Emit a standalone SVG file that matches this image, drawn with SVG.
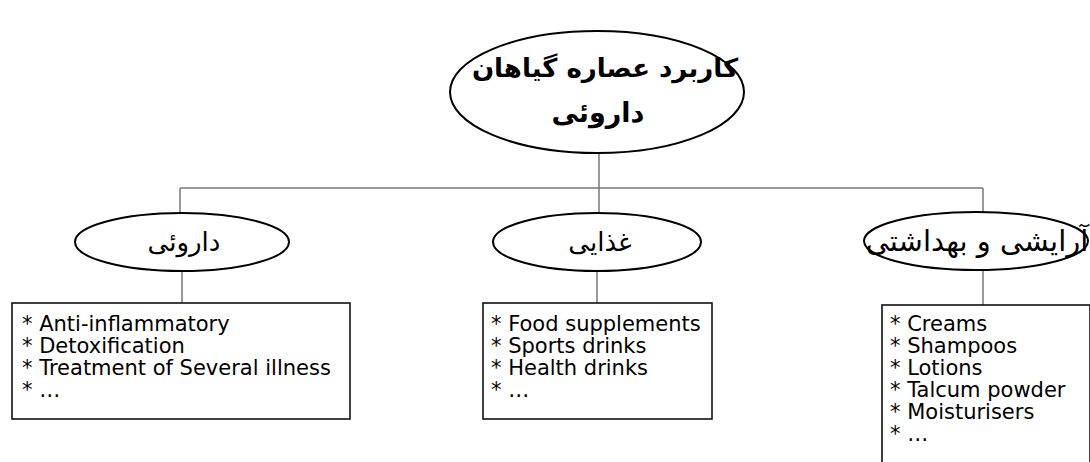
<svg xmlns="http://www.w3.org/2000/svg" width="1090" height="462" viewBox="0 0 1090 462">
<style>
.ell{fill:#fff;stroke:#000;stroke-width:2}
.box{fill:#fff;stroke:#111;stroke-width:1.6}
.con{fill:none;stroke:#777;stroke-width:1.5}
.fa{font-family:"DejaVu Sans",sans-serif;fill:#000;text-anchor:middle}
.en{font-family:"DejaVu Sans","Liberation Sans",sans-serif;font-size:21px;fill:#000}
</style>
<rect width="1090" height="462" fill="#fff"/>
<g id="connectors">
<line class="con" x1="599" y1="153" x2="599" y2="188"/>
<line class="con" x1="180" y1="188" x2="983" y2="188"/>
<line class="con" x1="180" y1="188" x2="180" y2="213"/>
<line class="con" x1="599" y1="188" x2="599" y2="213"/>
<line class="con" x1="983" y1="188" x2="983" y2="213"/>
<line class="con" x1="182" y1="271" x2="182" y2="303"/>
<line class="con" x1="597" y1="271" x2="597" y2="303"/>
<line class="con" x1="983" y1="270" x2="983" y2="305"/>
</g>
<g id="root">
<ellipse class="ell" cx="597" cy="92" rx="147" ry="61"/>
<text class="fa" x="605" y="77" font-size="26" font-weight="bold" direction="rtl">کاربرد عصاره گیاهان</text>
<text class="fa" x="598" y="122" font-size="27" font-weight="bold" direction="rtl">داروئی</text>
</g>
<g id="medicinal">
<ellipse class="ell" cx="182" cy="242" rx="107" ry="29"/>
<text class="fa" x="184" y="251" font-size="26" direction="rtl">داروئی</text>
</g>
<g id="food">
<ellipse class="ell" cx="597" cy="242" rx="104" ry="29"/>
<text class="fa" x="600" y="251" font-size="26" direction="rtl">غذایی</text>
</g>
<g id="cosmetic">
<ellipse class="ell" cx="976" cy="241" rx="112" ry="29"/>
<text class="fa" x="977" y="251" font-size="29" direction="rtl">آرایشی و بهداشتی</text>
</g>
<g id="medicinal-list">
<rect class="box" x="12" y="303" width="338" height="116"/>
<text class="en" x="22" y="331">* Anti-inflammatory</text>
<text class="en" x="22" y="353">* Detoxification</text>
<text class="en" x="22" y="375">* Treatment of Several illness</text>
<text class="en" x="22" y="397">*  …</text>
</g>
<g id="food-list">
<rect class="box" x="483" y="303" width="229" height="116"/>
<text class="en" x="491" y="331">* Food supplements</text>
<text class="en" x="491" y="353">* Sports drinks</text>
<text class="en" x="491" y="375">* Health drinks</text>
<text class="en" x="491" y="397">*  …</text>
</g>
<g id="cosmetic-list">
<rect class="box" x="882" y="305" width="208" height="170"/>
<text class="en" x="890" y="331">* Creams</text>
<text class="en" x="890" y="353">* Shampoos</text>
<text class="en" x="890" y="375">* Lotions</text>
<text class="en" x="890" y="397">* Talcum powder</text>
<text class="en" x="890" y="419">* Moisturisers</text>
<text class="en" x="890" y="441">*  …</text>
</g>
</svg>
